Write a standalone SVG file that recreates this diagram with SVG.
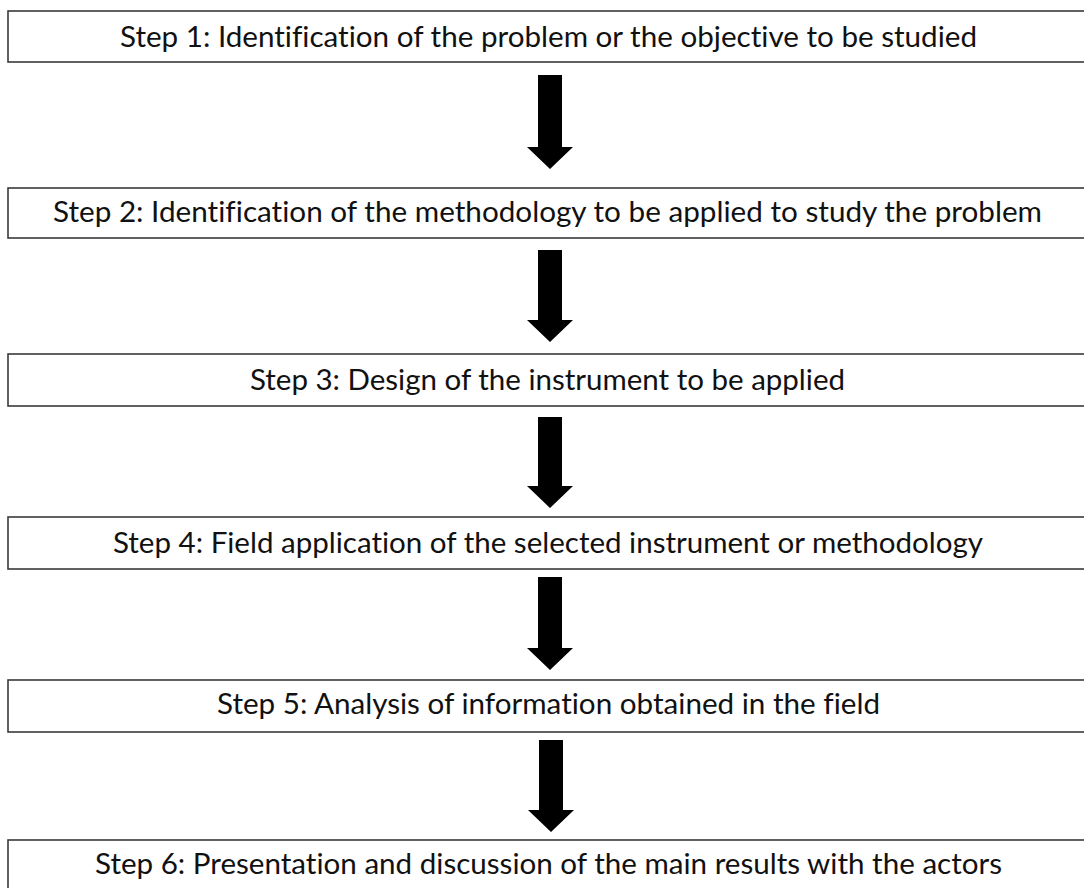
<svg xmlns="http://www.w3.org/2000/svg" width="1084" height="888" viewBox="0 0 1084 888">
<style>
.box{fill:#ffffff;stroke:#3a3a3a;stroke-width:1.6}
.lbl{font-family:Lato,"Open Sans","Liberation Sans",sans-serif;font-size:28px;fill:#111111;text-anchor:middle;font-variant-ligatures:none;font-feature-settings:"liga" 0}
.arr{fill:#000000}
</style>
<rect width="1084" height="888" fill="#ffffff"/>
<g id="step1"><rect class="box" x="8" y="11" width="1090" height="51"/><text class="lbl" x="548.5" y="47" textLength="857" lengthAdjust="spacingAndGlyphs">Step 1: Identification of the problem or the objective to be studied</text></g>
<g id="step2"><rect class="box" x="8" y="188" width="1090" height="50"/><text class="lbl" x="547.5" y="222" textLength="989" lengthAdjust="spacingAndGlyphs">Step 2: Identification of the methodology to be applied to study the problem</text></g>
<g id="step3"><rect class="box" x="8" y="354" width="1090" height="52"/><text class="lbl" x="547.5" y="390" textLength="595" lengthAdjust="spacingAndGlyphs">Step 3: Design of the instrument to be applied</text></g>
<g id="step4"><rect class="box" x="8" y="517" width="1090" height="52"/><text class="lbl" x="548" y="553" textLength="870" lengthAdjust="spacingAndGlyphs">Step 4: Field application of the selected instrument or methodology</text></g>
<g id="step5"><rect class="box" x="8" y="680" width="1090" height="52"/><text class="lbl" x="548.5" y="714" textLength="663" lengthAdjust="spacingAndGlyphs">Step 5: Analysis of information obtained in the field</text></g>
<g id="step6"><rect class="box" x="8" y="840" width="1090" height="54"/><text class="lbl" x="548.5" y="874" textLength="907" lengthAdjust="spacingAndGlyphs">Step 6: Presentation and discussion of the main results with the actors</text></g>
<g id="connectors">
<polygon class="arr" points="538,75 562,75 562,147 573,147 550,169 527,147 538,147"/>
<polygon class="arr" points="538,250 562,250 562,320 573,320 550,342 527,320 538,320"/>
<polygon class="arr" points="538,417 562,417 562,486 573,486 550,508 527,486 538,486"/>
<polygon class="arr" points="538,577 562,577 562,648 573,648 550,670 527,648 538,648"/>
<polygon class="arr" points="539,740 563,740 563,810 574,810 551,832 528,810 539,810"/>
</g>
</svg>
